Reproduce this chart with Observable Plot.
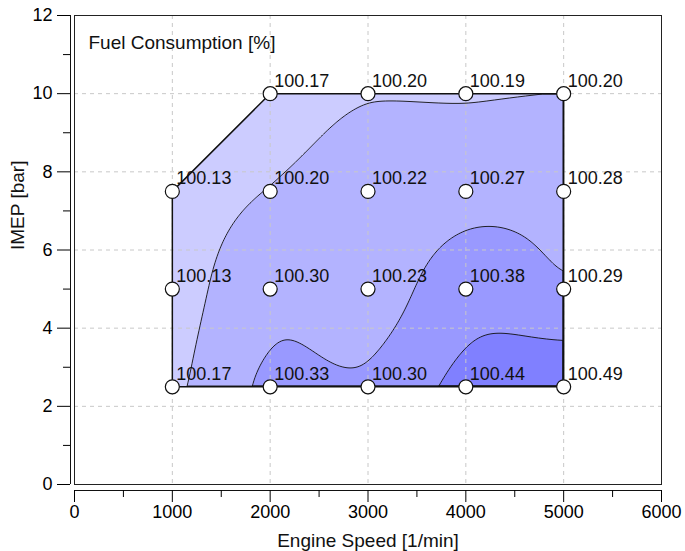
<!DOCTYPE html>
<html>
<head>
<meta charset="utf-8">
<script src="https://cdn.jsdelivr.net/npm/d3@7"></script>
<script src="https://cdn.jsdelivr.net/npm/@observablehq/plot@0.6"></script>
<style>
  html, body { margin: 0; padding: 0; background: #ffffff; }
  #chart { width: 685px; height: 551px; }
</style>
</head>
<body>
<div id="chart"></div>
<script>
// ---- data ----
const engineSpeed = [1000, 2000, 3000, 4000, 5000];          // 1/min
const imep = [2.5, 5, 7.5, 10];                               // bar
const fuelAt2_5 = [100.17, 100.33, 100.30, 100.44, 100.49];
const fuelAt5   = [100.13, 100.30, 100.23, 100.38, 100.29];
const fuelAt7_5 = [100.13, 100.20, 100.22, 100.27, 100.28];
const fuelAt10  = [null,   100.17, 100.20, 100.19, 100.20];
const contourLevels = [100.1, 100.2, 100.3, 100.4];
const levelColors = ["#ccccff", "#b3b3ff", "#9999ff", "#8080ff"];
const xTicks = [0, 1000, 2000, 3000, 4000, 5000, 6000];
const xMinorTicks = [500, 1500, 2500, 3500, 4500, 5500];
const yTicks = [0, 2, 4, 6, 8, 10, 12];
const yMinorTicks = [1, 3, 5, 7, 9, 11];
const title = "Fuel Consumption [%]";
const xLabel = "Engine Speed [1/min]";
const yLabel = "IMEP [bar]";

// ---- table built from the arrays ----
const rows = [fuelAt2_5, fuelAt5, fuelAt7_5, fuelAt10];
const points = [];
rows.forEach((row, j) => row.forEach((v, i) => {
  if (v != null) points.push({speed: engineSpeed[i], imep: imep[j], fuel: v});
}));
const hull = d3.polygonHull(points.map(p => [p.speed, p.imep]));
const outline = [...hull, hull[0]].map(([speed, imepV]) => ({speed, imep: imepV}));

// smoothing thin-plate spline surface fitted to the measured points, masked to their hull
const smoothing = 0.3;
function tpsInterpolate(index, width, height, X, Y, V) {
  const s = 100;
  const P = Array.from(index, i => [X[i] / s, Y[i] / s, +V[i]]);
  const n = P.length, m = n + 3;
  const mean = d3.mean(P, p => p[2]);
  const phi = r2 => (r2 > 0 ? 0.5 * r2 * Math.log(r2) : 0);
  const A = Array.from({length: m}, () => new Float64Array(m + 1));
  for (let a = 0; a < n; a++) {
    for (let b = 0; b < n; b++) {
      const dx = P[a][0] - P[b][0], dy = P[a][1] - P[b][1];
      A[a][b] = phi(dx * dx + dy * dy) + (a === b ? smoothing : 0);
    }
    A[a][n] = 1; A[a][n + 1] = P[a][0]; A[a][n + 2] = P[a][1];
    A[n][a] = 1; A[n + 1][a] = P[a][0]; A[n + 2][a] = P[a][1];
    A[a][m] = P[a][2] - mean;
  }
  for (let c = 0; c < m; c++) {
    let piv = c;
    for (let r = c + 1; r < m; r++) if (Math.abs(A[r][c]) > Math.abs(A[piv][c])) piv = r;
    [A[c], A[piv]] = [A[piv], A[c]];
    for (let r = 0; r < m; r++) {
      if (r === c) continue;
      const f = A[r][c] / A[c][c];
      if (f === 0) continue;
      for (let k = c; k <= m; k++) A[r][k] -= f * A[c][k];
    }
  }
  const w = A.map((row, r) => row[m] / row[r]);
  const H = d3.polygonHull(P.map(p => [p[0], p[1]]));
  const out = new Float64Array(width * height);
  for (let j = 0; j < height; j++) {
    for (let i = 0; i < width; i++) {
      const px = (i + 0.5) / s, py = (j + 0.5) / s;
      if (!d3.polygonContains(H, [px, py])) { out[j * width + i] = -1e6; continue; }
      let v = mean + w[n] + w[n + 1] * px + w[n + 2] * py;
      for (let a = 0; a < n; a++) {
        const dx = px - P[a][0], dy = py - P[a][1];
        v += w[a] * phi(dx * dx + dy * dy);
      }
      out[j * width + i] = v;
    }
  }
  return out;
}

const font = "'Liberation Sans', Arial, Helvetica, sans-serif";
const plain = d => String(d);

const chart = Plot.plot({
  width: 685,
  height: 551,
  marginLeft: 74,
  marginRight: 24,
  marginTop: 15,
  marginBottom: 67,
  x: {type: "linear", domain: [0, 6000]},
  y: {type: "linear", domain: [0, 12]},
  color: {type: "ordinal", domain: contourLevels, range: levelColors},
  style: {fontFamily: font, fontSize: "18px", color: "#000", background: "#fff"},
  marks: [
    Plot.contour(points, {
      x: "speed", y: "imep", value: "fuel",
      thresholds: contourLevels, interpolate: tpsInterpolate, pixelSize: 1,
      fill: "value", stroke: "none"
    }),
    Plot.gridX(xTicks.slice(1, -1), {stroke: "#c8c8c8", strokeOpacity: 1, strokeDasharray: "4,4"}),
    Plot.gridY(yTicks.slice(1, -1), {stroke: "#c8c8c8", strokeOpacity: 1, strokeDasharray: "4,4"}),
    Plot.contour(points, {
      x: "speed", y: "imep", value: "fuel",
      thresholds: contourLevels.slice(1), interpolate: tpsInterpolate, pixelSize: 1,
      fill: "none", stroke: "#111", strokeWidth: 0.9
    }),
    Plot.line(outline, {x: "speed", y: "imep", stroke: "#111", strokeWidth: 1.5}),
    Plot.frame({stroke: "#222"}),
    Plot.ruleX([0], {dx: -4, stroke: "#111"}),
    Plot.ruleY([0], {dy: 6, stroke: "#111"}),
    Plot.axisY(yTicks, {anchor: "left", dx: -4, tickSize: 13, tickPadding: 5, fontSize: 18, tickFormat: plain, label: null}),
    Plot.axisY(yMinorTicks, {anchor: "left", dx: -4, tickSize: 7, tickFormat: () => "", label: null}),
    Plot.axisX(xTicks, {anchor: "bottom", dy: 6, tickSize: 12, tickPadding: 3, fontSize: 18, tickFormat: plain, label: null}),
    Plot.axisX(xMinorTicks, {anchor: "bottom", dy: 6, tickSize: 7, tickFormat: () => "", label: null}),
    Plot.dot(points, {x: "speed", y: "imep", r: 7, fill: "#fff", stroke: "#111", strokeWidth: 1.2}),
    Plot.text(points, {
      x: "speed", y: "imep", text: d => d.fuel.toFixed(2),
      textAnchor: "start", lineAnchor: "bottom", dx: 4, dy: -7, fontSize: 18, fill: "#111"
    }),
    Plot.text([title], {frameAnchor: "top-left", textAnchor: "start", lineAnchor: "top", dx: 14, dy: 20, fontSize: 19, fill: "#111"}),
    Plot.text([xLabel], {frameAnchor: "bottom", lineAnchor: "bottom", dy: 62, fontSize: 19, fill: "#111"}),
    Plot.text([yLabel], {frameAnchor: "left", rotate: -90, lineAnchor: "middle", dx: -57, fontSize: 19, fill: "#111"})
  ]
});
document.getElementById("chart").appendChild(chart);
</script>
</body>
</html>
